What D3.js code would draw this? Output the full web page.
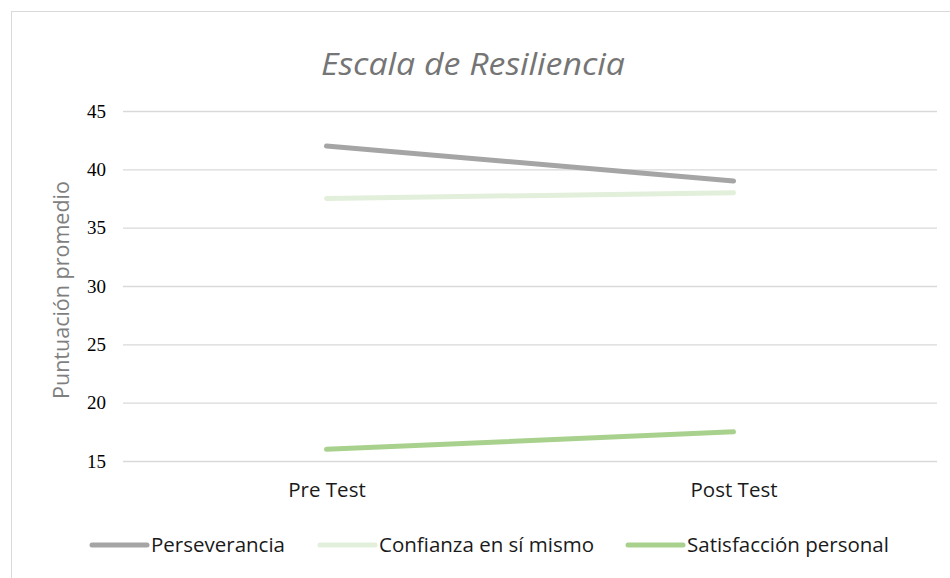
<!DOCTYPE html>
<html>
<head>
<meta charset="utf-8">
<script src="https://cdn.jsdelivr.net/npm/d3@7"></script>
<style>
  body { margin: 0; background: #fff; }
  svg { display: block; }
</style>
</head>
<body>
<svg id="chart" width="950" height="578"></svg>
<script>
// data
var categories = ["Pre Test", "Post Test"];
var seriesNames = ["Perseverancia", "Confianza en sí mismo", "Satisfacción personal"];
var perseverancia = [42, 39];
var confianza = [37.5, 38];
var satisfaccion = [16, 17.5];
var yTicks = [15, 20, 25, 30, 35, 40, 45];
var colors = ["#a5a5a5", "#e2efda", "#a9d18e"];

var series = [perseverancia, confianza, satisfaccion];

var svg = d3.select("#chart");
var margin = { top: 111, right: 13, bottom: 117, left: 123 };
var width = 950 - margin.left - margin.right;
var height = 578 - margin.top - margin.bottom;

// outer chart border
svg.append("rect")
    .attr("x", 11.5).attr("y", 11.5)
    .attr("width", 960).attr("height", 600)
    .attr("fill", "none")
    .attr("stroke", "#d9d9d9")
    .attr("stroke-width", 1);

svg.append("text")
    .attr("x", 473)
    .attr("y", 75)
    .attr("text-anchor", "middle")
    .attr("textLength", 304)
    .attr("lengthAdjust", "spacingAndGlyphs")
    .style("font-family", "'Open Sans'")
    .style("font-style", "italic")
    .style("font-size", "31px")
    .style("fill", "#757575")
    .text("Escala de Resiliencia");

var g = svg.append("g").attr("transform", "translate(" + margin.left + "," + margin.top + ")");

var x = d3.scalePoint()
    .domain(categories)
    .range([0, width])
    .padding(0.5);

var y = d3.scaleLinear()
    .domain([15, 45])
    .range([height, 0]);

// gridlines
var yAxis = g.append("g")
    .call(d3.axisLeft(y).tickValues(yTicks).tickSize(-width).tickPadding(17));
yAxis.select(".domain").remove();
yAxis.selectAll(".tick line").attr("stroke", "#d9d9d9").attr("stroke-width", 1.3);
yAxis.selectAll(".tick text")
    .style("font-family", "'Liberation Serif'")
    .style("font-size", "19px")
    .style("fill", "#000");

var xAxis = g.append("g")
    .attr("transform", "translate(0," + height + ")")
    .call(d3.axisBottom(x).tickSize(0).tickPadding(21));
xAxis.select(".domain").remove();
xAxis.selectAll(".tick text")
    .style("font-family", "'Open Sans'")
    .style("font-size", "20.5px")
    .style("fill", "#1a1a1a");

svg.append("text")
    .attr("transform", "translate(69,290) rotate(-90)")
    .attr("text-anchor", "middle")
    .style("font-family", "'Open Sans'")
    .style("font-size", "21.5px")
    .style("fill", "#7f7f7f")
    .text("Puntuación promedio");

var line = d3.line()
    .x(function(d, i) { return x(categories[i]); })
    .y(function(d) { return y(d); });

g.selectAll(".series")
    .data(series)
    .enter()
    .append("path")
    .attr("class", "series")
    .attr("d", line)
    .attr("fill", "none")
    .attr("stroke", function(d, i) { return colors[i]; })
    .attr("stroke-width", 5)
    .attr("stroke-linecap", "round");

// legend
var legendX = [92, 320, 628];
var legend = svg.append("g").attr("transform", "translate(0,545)");
var item = legend.selectAll(".item")
    .data(seriesNames)
    .enter()
    .append("g")
    .attr("class", "item")
    .attr("transform", function(d, i) { return "translate(" + legendX[i] + ",0)"; });
item.append("line")
    .attr("x1", 0).attr("x2", 55)
    .attr("stroke", function(d, i) { return colors[i]; })
    .attr("stroke-width", 5)
    .attr("stroke-linecap", "round");
item.append("text")
    .attr("x", 59)
    .attr("dy", "0.35em")
    .style("font-family", "'Open Sans'")
    .style("font-size", "20.5px")
    .style("fill", "#1a1a1a")
    .text(function(d) { return d; });
</script>
</body>
</html>
